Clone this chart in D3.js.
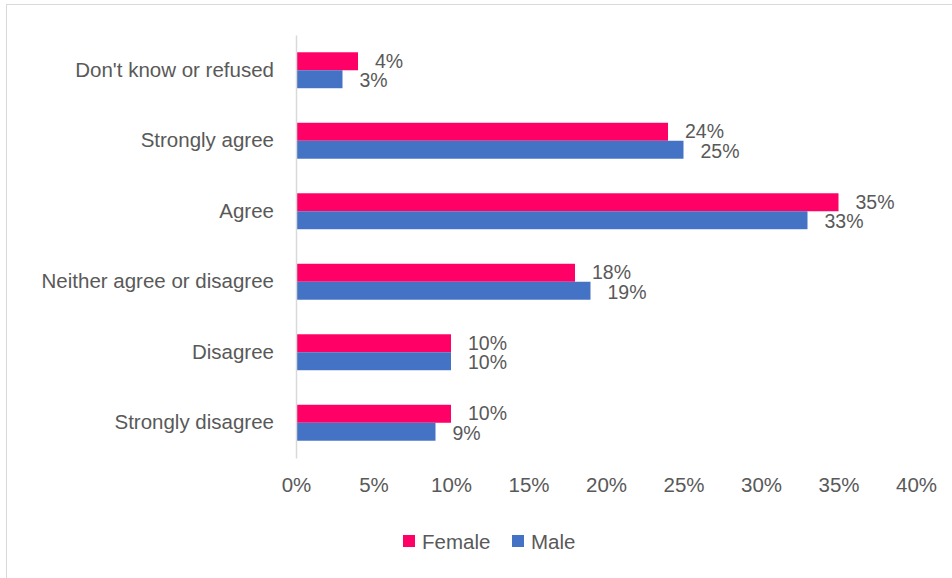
<!DOCTYPE html>
<html>
<head>
<meta charset="utf-8">
<script src="https://cdn.jsdelivr.net/npm/d3@7"></script>
<style>
  body { margin: 0; background: #fff; }
  svg text { font-family: "Liberation Sans", Arial, sans-serif; fill: #595959; }
</style>
</head>
<body>
<div id="chart"></div>
<script>
'use strict';

// data
var categories = ["Don't know or refused", "Strongly agree", "Agree",
  "Neither agree or disagree", "Disagree", "Strongly disagree"];
var seriesNames = ["Female", "Male"];
var female = [4, 24, 35, 18, 10, 10];
var male = [3, 25, 33, 19, 10, 9];
var xTicks = [0, 5, 10, 15, 20, 25, 30, 35, 40];

var colors = { Female: "#FF0066", Male: "#4472C4" };
var fontSize = "20.5px";

var width = 952, height = 578;
var margins = { top: 35, right: 36, bottom: 120, left: 296 };

var svg = d3.select("#chart").append("svg")
  .attr("width", width)
  .attr("height", height);

// chart frame
svg.append("rect")
  .attr("x", 6.5).attr("y", 4.5)
  .attr("width", 960).attr("height", 600)
  .attr("fill", "none")
  .attr("stroke", "#d9d9d9");

var xScale = d3.scaleLinear().domain([0, 40]).range([margins.left, width - margins.right]);
var yScale = d3.scaleBand().domain(categories).range([margins.top, height - margins.bottom]).paddingInner(0.49).paddingOuter(0.245);
var subScale = d3.scaleBand().domain(seriesNames).range([0, yScale.bandwidth()]);

var rows = categories.map(function(c, i) {
  return { cat: c, values: [{ name: "Female", v: female[i] }, { name: "Male", v: male[i] }] };
});

var g = svg.selectAll(".row").data(rows).enter().append("g")
  .attr("class", "row")
  .attr("transform", function(d) { return "translate(0," + yScale(d.cat) + ")"; });

g.selectAll("rect").data(function(d) { return d.values; }).enter().append("rect")
  .attr("x", xScale(0))
  .attr("y", function(d) { return subScale(d.name); })
  .attr("width", function(d) { return xScale(d.v) - xScale(0); })
  .attr("height", subScale.bandwidth())
  .attr("fill", function(d) { return colors[d.name]; });

// value labels, female sits a touch higher so the pair doesn't collide
g.selectAll(".lbl").data(function(d) { return d.values; }).enter().append("text")
  .attr("class", "lbl")
  .attr("x", function(d) { return xScale(d.v) + 17; })
  .attr("y", function(d) {
    return subScale(d.name) + subScale.bandwidth() / 2 + (d.name === "Female" ? 6.5 : 8);
  })
  .style("font-size", "19.5px")
  .text(function(d) { return d.v + "%"; });

// vertical axis
var yAxis = d3.axisLeft(yScale).tickSize(0).tickPadding(22);
var yG = svg.append("g")
  .attr("transform", "translate(" + xScale(0) + ",0)")
  .call(yAxis);
yG.select(".domain").attr("stroke", "#d9d9d9").attr("stroke-width", 1.5);
yG.selectAll("text").style("font-size", fontSize).attr("fill", "#595959");

// horizontal tick labels
var xAxis = d3.axisBottom(xScale).tickValues(xTicks).tickSize(0).tickPadding(0)
  .tickFormat(function(d) { return d + "%"; });
var xG = svg.append("g")
  .attr("transform", "translate(0,477)")
  .call(xAxis);
xG.select(".domain").remove();
xG.selectAll("text").style("font-size", fontSize).attr("fill", "#595959");

// legend
var legendItems = [{ name: "Female", x: 403 }, { name: "Male", x: 512 }];
var lg = svg.selectAll(".legend").data(legendItems).enter().append("g")
  .attr("class", "legend")
  .attr("transform", function(d) { return "translate(" + d.x + ",535)"; });
lg.append("rect").attr("width", 12).attr("height", 12)
  .attr("fill", function(d) { return colors[d.name]; });
lg.append("text").attr("x", 19).attr("y", 13.5)
  .style("font-size", fontSize)
  .text(function(d) { return d.name; });
</script>
</body>
</html>
